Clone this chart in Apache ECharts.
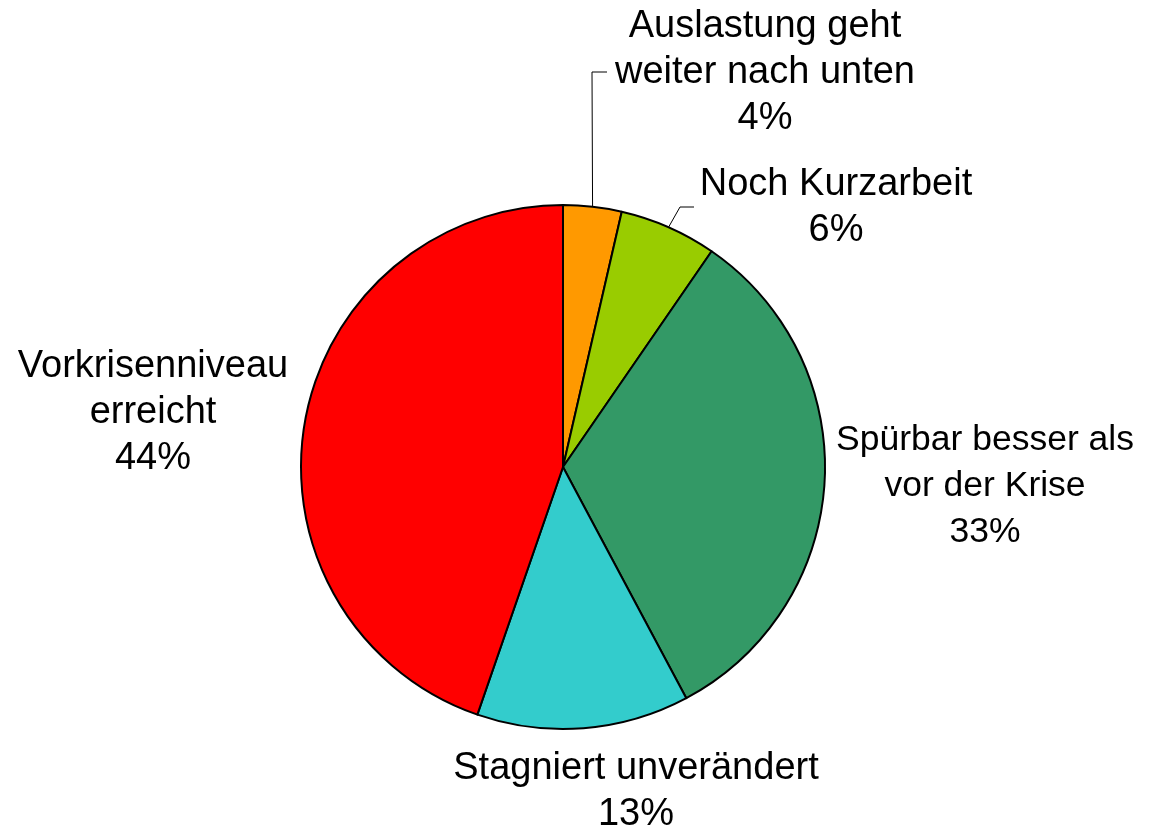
<!DOCTYPE html>
<html>
<head>
<meta charset="utf-8">
<script src="https://cdn.jsdelivr.net/npm/echarts@6/dist/echarts.min.js"></script>
<style>
  html, body { margin: 0; padding: 0; background: #fff; }
  #main { position: fixed; left: 0; top: 0; width: 1164px; height: 831px; }
</style>
</head>
<body>
<div id="main"></div>
<script>
const categories = [
    'Auslastung geht\nweiter nach unten',
    'Noch Kurzarbeit',
    'Spürbar besser als\nvor der Krise',
    'Stagniert unverändert',
    'Vorkrisenniveau\nerreicht'
];
// slice sizes as measured from the angles in the picture
const values = [3.6, 6.0, 32.6, 13.1, 44.7];
// percentages as printed on the chart
const percentLabels = ['4%', '6%', '33%', '13%', '44%'];
const colors = ['#ff9900', '#99cc00', '#339966', '#33cccc', '#ff0000'];
const withLine = [true, true, false, false, false];

// label centres (px), leader-line elbows, font sizes
const labelPos = [[765, 73], [836, 208], [985, 486], [636, 792], [153, 413]];
const elbows = [[[592, 72], [607, 72]], [[680, 207], [694, 207]], null, null, null];
const fontSizes = [38, 38, 35.5, 38, 38];

const chartDom = document.getElementById('main');
const myChart = echarts.init(chartDom);

const option = {
    animation: false,
    series: [
        {
            type: 'pie',
            center: [563, 467],
            radius: 262,
            startAngle: 90,
            clockwise: true,
            avoidLabelOverlap: false,
            itemStyle: { borderColor: '#000', borderWidth: 2 },
            label: {
                show: true,
                position: 'outside',
                formatter: (p) => p.name + '\n' + percentLabels[p.dataIndex],
                fontFamily: 'Liberation Sans, Arial, sans-serif',
                fontSize: 38,
                lineHeight: 46,
                color: '#000',
                align: 'center'
            },
            labelLine: { show: true, lineStyle: { color: '#000', width: 1 } },
            labelLayout: (params) => {
                const i = params.dataIndex;
                const out = {
                    x: labelPos[i][0],
                    y: labelPos[i][1],
                    align: 'center',
                    verticalAlign: 'middle',
                    hideOverlap: false
                };
                if (elbows[i] && params.labelLinePoints) {
                    out.labelLinePoints = [params.labelLinePoints[0], elbows[i][0], elbows[i][1]];
                }
                return out;
            },
            data: categories.map((name, i) => ({
                name: name,
                value: values[i],
                itemStyle: { color: colors[i] },
                label: { fontSize: fontSizes[i] },
                labelLine: { show: withLine[i] }
            }))
        }
    ]
};
myChart.setOption(option);
</script>
</body>
</html>
